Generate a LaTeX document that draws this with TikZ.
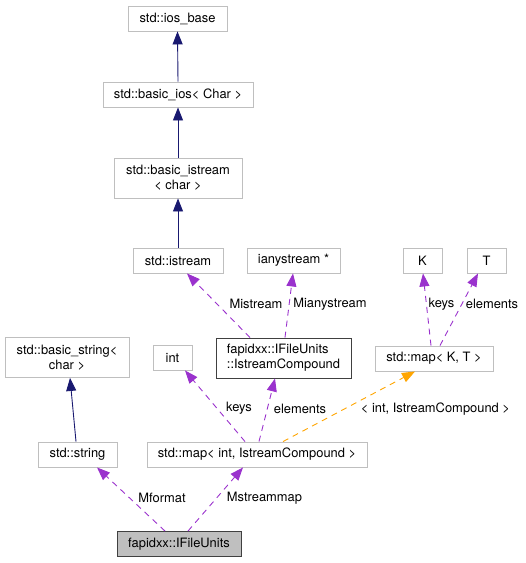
\documentclass[tikz,border=0pt]{standalone}
\usepackage{fontspec}
\setmainfont{TeX Gyre Heros}
\usetikzlibrary{arrows.meta}
\definecolor{boxgray}{HTML}{BFBFBF}
\definecolor{darkbox}{HTML}{404040}
\definecolor{inhblue}{HTML}{191970}
\definecolor{usepurple}{HTML}{9A32CD}
\definecolor{tmplorange}{HTML}{FFA500}
\begin{document}
\begin{tikzpicture}[x=1pt,y=-1pt,
  every node/.style={font=\fontsize{12.9}{15}\selectfont, text=black},
  box/.style={draw=boxgray, line width=0.9pt, fill=white, inner sep=0pt, minimum height=25pt, align=center},
  tallbox/.style={box, minimum height=40pt},
  inh/.style={draw=inhblue, line width=0.9pt, -{Triangle[length=13pt,width=10pt]}},
  use/.style={draw=usepurple, line width=0.9pt, dash pattern=on 6pt off 5pt, -{Triangle[length=13pt,width=10pt]}},
  tmpl/.style={draw=tmplorange, line width=0.9pt, dash pattern=on 6pt off 5pt, -{Triangle[length=13pt,width=10pt]}},
  lbl/.style={inner sep=0pt, fill=none}
]
\useasboundingbox (0,0) rectangle (526,563);
% nodes
\node[box, minimum width=99pt] (iosbase) at (177.5,18.5) {std::ios\_base};
\node[box, minimum width=150pt] (basicios) at (178,94.5) {std::basic\_ios\textless{} Char \textgreater};
\node[tallbox, minimum width=128pt] (basicistream) at (178,178) {std::basic\_istream\\\textless{} char \textgreater};
\node[box, minimum width=90pt] (istream) at (178,260.5) {std::istream};
\node[box, minimum width=93pt] (ianystream) at (293.5,260.5) {ianystream *};
\node[tallbox, draw=darkbox, minimum width=135pt, align=left] (cmp) at (283.5,358) {fapidxx::IFileUnits\\::IstreamCompound};
\node[box, minimum width=39pt] (int) at (172.5,357.5) {int};
\node[tallbox, minimum width=124pt] (bstring) at (67,357.5) {std::basic\_string\textless\\char \textgreater};
\node[box, minimum width=79pt] (string) at (77.5,454.5) {std::string};
\node[box, minimum width=220pt] (mapint) at (257,454.5) {std::map\textless{} int, IstreamCompound \textgreater};
\node[box, draw=darkbox, fill=boxgray, minimum width=124pt] (ifu) at (179,544) {fapidxx::IFileUnits};
\node[box, minimum width=39pt] (K) at (422.5,260.5) {K};
\node[box, minimum width=39pt] (T) at (486.5,260.5) {T};
\node[box, minimum width=118pt] (mapkt) at (434,358.5) {std::map\textless{} K, T \textgreater};
% inheritance
\draw[inh] (basicios.north) -- (iosbase.south);
\draw[inh] (basicistream.north) -- (basicios.south);
\draw[inh] (istream.north) -- (basicistream.south);
\draw[inh] ([xshift=-1.5pt]string.north) -- ([xshift=3pt]bstring.south);
% usage
\draw[use] ([xshift=-33.5pt]cmp.north) -- ([xshift=9pt]istream.south);
\draw[use] ([xshift=1.5pt]cmp.north) -- ([xshift=-0.5pt]ianystream.south);
\draw[use] ([xshift=-12pt]mapint.north) -- ([xshift=12.5pt]int.south);
\draw[use] ([xshift=2pt]mapint.north) -- ([xshift=-8.5pt]cmp.south);
\draw[tmpl] ([xshift=26pt]mapint.north) -- ([xshift=-19pt]mapkt.south);
\draw[use] ([xshift=-3pt]mapkt.north) -- ([xshift=0.5pt]K.south);
\draw[use] ([xshift=6pt]mapkt.north) -- ([xshift=-8.5pt]T.south);
\draw[use] ([xshift=-14pt]ifu.north) -- ([xshift=19.5pt]string.south);
\draw[use] ([xshift=9pt]ifu.north) -- ([xshift=-14pt]mapint.south);
% labels
\node[lbl] (lmistream) at (256,304) {Mistream};
\node[lbl] (lmiany) at (330,304) {Mianystream};
\node[lbl] (lkeys1) at (239,408.5) {keys};
\node[lbl] (lelem1) at (300,408.5) {elements};
\node[lbl] (ltmpl) at (435.5,409) {\textless{} int, IstreamCompound \textgreater};
\node[lbl] (lkeys2) at (441.5,304) {keys};
\node[lbl] (lelem2) at (492,304) {elements};
\node[lbl] (lmformat) at (162,498) {Mformat};
\node[lbl] (lmsm) at (264.5,498) {Mstreammap};
\end{tikzpicture}
\end{document}
